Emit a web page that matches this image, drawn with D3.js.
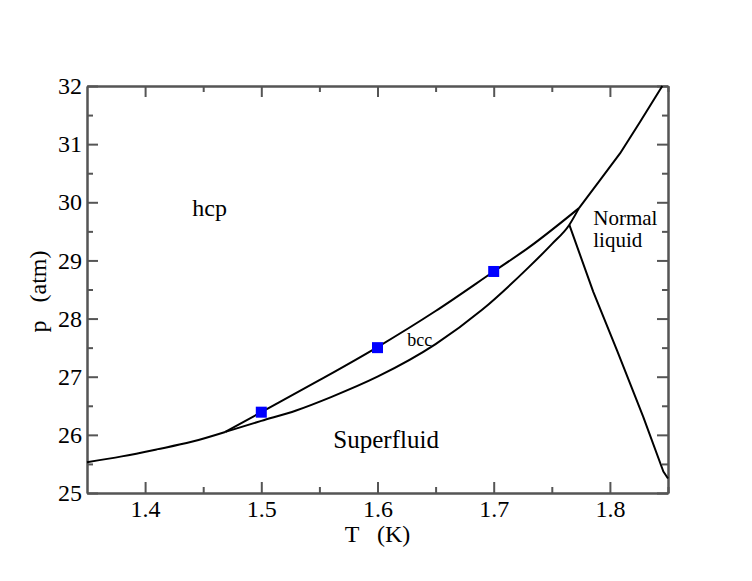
<!DOCTYPE html>
<html>
  <head>
    <meta charset="UTF-8" />
    <script src="https://cdn.jsdelivr.net/npm/d3@7"></script>
    <title>Helium phase diagram</title>
    <style type="text/css">
      body { margin: 0; background: #fff; }
      text { font-family: "Liberation Serif", "DejaVu Serif", serif; fill: #000; }
    </style>
  </head>
  <body>
    <div id="chartcontainer"></div>
    <script>
      // melting line below the bcc pocket (superfluid / hcp)
      const meltLowT = [1.35, 1.38, 1.41, 1.44, 1.469];
      const meltLowP = [25.53, 25.63, 25.75, 25.88, 26.05];
      // superfluid / bcc boundary
      const sfBccT = [1.469, 1.5, 1.53, 1.56, 1.6, 1.65, 1.69, 1.73, 1.75, 1.765, 1.7734];
      const sfBccP = [26.05, 26.24, 26.42, 26.65, 27.0, 27.56, 28.15, 28.88, 29.28, 29.61, 29.9];
      // bcc / hcp boundary
      const bccHcpT = [1.469, 1.5, 1.55, 1.6, 1.65, 1.7, 1.73, 1.7734];
      const bccHcpP = [26.05, 26.39, 26.94, 27.51, 28.13, 28.81, 29.22, 29.9];
      // melting line above the bcc pocket (normal liquid / hcp)
      const meltHighT = [1.7734, 1.7915, 1.8087, 1.8259, 1.8451];
      const meltHighP = [29.9, 30.38, 30.84, 31.38, 32.0];
      // lambda line
      const lambdaT = [1.7651, 1.7857, 1.8062, 1.8287, 1.846, 1.85];
      const lambdaP = [29.61, 28.46, 27.45, 26.31, 25.37, 25.25];
      // measured points
      const pointT = [1.5, 1.6, 1.7];
      const pointP = [26.39, 27.5, 28.81];

      const xTicks = [1.4, 1.5, 1.6, 1.7, 1.8];
      const xMinor = [1.45, 1.55, 1.65, 1.75, 1.85];
      const yTicks = [25, 26, 27, 28, 29, 30, 31, 32];
      const yMinor = [25.5, 26.5, 27.5, 28.5, 29.5, 30.5, 31.5];

      const labels = [
        { text: "hcp", T: 1.4406, p: 29.77, size: 24 },
        { text: "bcc", T: 1.6257, p: 27.53, size: 18 },
        { text: "Superfluid", T: 1.562, p: 25.77, size: 25 },
        { text: "Normal", T: 1.7857, p: 29.61, size: 21 },
        { text: "liquid", T: 1.7857, p: 29.23, size: 21 },
      ];

      var margin = { top: 86, right: 84, bottom: 88, left: 87 },
        width = 752 - margin.left - margin.right,
        height = 581 - margin.top - margin.bottom;

      var svg = d3
        .select("#chartcontainer")
        .append("svg")
        .attr("width", 752)
        .attr("height", 581);

      var g = svg
        .append("g")
        .attr("transform", "translate(" + margin.left + "," + margin.top + ")");

      var x = d3.scaleLinear().domain([1.35, 1.85]).range([0, width]);
      var y = d3.scaleLinear().domain([25, 32]).range([height, 0]);

      const axisColor = "#555";

      function styleAxis(sel) {
        sel.selectAll("path.domain").attr("stroke", axisColor).attr("stroke-width", 2);
        sel.selectAll(".tick line").attr("stroke", axisColor).attr("stroke-width", 2);
        sel.selectAll(".tick text")
          .style("font-family", '"Liberation Serif", serif')
          .style("font-size", "24px")
          .attr("fill", "#000");
      }

      // bottom + left with labels
      g.append("g")
        .attr("transform", "translate(0," + height + ")")
        .call(d3.axisBottom(x).tickValues(xTicks).tickSize(-11).tickSizeOuter(0).tickPadding(7).tickFormat(d3.format(".1f")))
        .call(styleAxis);
      g.append("g")
        .call(d3.axisLeft(y).tickValues(yTicks).tickSize(-11).tickSizeOuter(0).tickPadding(5).tickFormat(d3.format("d")))
        .call(styleAxis);
      // top + right mirrored
      g.append("g")
        .call(d3.axisTop(x).tickValues(xTicks).tickSize(-11).tickSizeOuter(0).tickFormat(""))
        .call(styleAxis);
      g.append("g")
        .attr("transform", "translate(" + width + ",0)")
        .call(d3.axisRight(y).tickValues(yTicks).tickSize(-11).tickSizeOuter(0).tickFormat(""))
        .call(styleAxis);

      // minor ticks
      g.append("g")
        .attr("transform", "translate(0," + height + ")")
        .call(d3.axisBottom(x).tickValues(xMinor).tickSize(-6).tickSizeOuter(0).tickFormat(""))
        .call(styleAxis);
      g.append("g")
        .call(d3.axisTop(x).tickValues(xMinor).tickSize(-6).tickSizeOuter(0).tickFormat(""))
        .call(styleAxis);
      g.append("g")
        .call(d3.axisLeft(y).tickValues(yMinor).tickSize(-6).tickSizeOuter(0).tickFormat(""))
        .call(styleAxis);
      g.append("g")
        .attr("transform", "translate(" + width + ",0)")
        .call(d3.axisRight(y).tickValues(yMinor).tickSize(-6).tickSizeOuter(0).tickFormat(""))
        .call(styleAxis);

      // curves
      var smooth = d3
        .line()
        .x(function (d) { return x(d[0]); })
        .y(function (d) { return y(d[1]); })
        .curve(d3.curveMonotoneX);
      var straight = d3
        .line()
        .x(function (d) { return x(d[0]); })
        .y(function (d) { return y(d[1]); });

      function zip(ts, ps) {
        return ts.map(function (t, i) { return [t, ps[i]]; });
      }

      [
        [zip(meltLowT, meltLowP), smooth],
        [zip(sfBccT, sfBccP), smooth],
        [zip(bccHcpT, bccHcpP), smooth],
        [zip(meltHighT, meltHighP), straight],
        [zip(lambdaT, lambdaP), straight],
      ].forEach(function (c) {
        g.append("path")
          .datum(c[0])
          .attr("fill", "none")
          .attr("stroke", "#000")
          .attr("stroke-width", 2)
          .attr("stroke-linejoin", "round")
          .attr("d", c[1]);
      });

      // measured points
      g.selectAll("rect.pt")
        .data(zip(pointT, pointP))
        .enter()
        .append("rect")
        .attr("class", "pt")
        .attr("x", function (d) { return x(d[0]) - 5.5; })
        .attr("y", function (d) { return y(d[1]) - 5.5; })
        .attr("width", 11)
        .attr("height", 11)
        .attr("fill", "#0000ff");

      // region labels
      g.selectAll("text.region")
        .data(labels)
        .enter()
        .append("text")
        .attr("class", "region")
        .attr("x", function (d) { return x(d.T); })
        .attr("y", function (d) { return y(d.p); })
        .style("font-size", function (d) { return d.size + "px"; })
        .text(function (d) { return d.text; });

      // axis titles
      svg.append("text")
        .attr("x", margin.left + width / 2)
        .attr("y", 542)
        .attr("text-anchor", "middle")
        .attr("xml:space", "preserve")
        .style("font-size", "24px")
        .style("white-space", "pre")
        .text("T   (K)");

      svg.append("text")
        .attr("transform", "translate(46," + (margin.top + height / 2 + 2) + ") rotate(-90)")
        .attr("text-anchor", "middle")
        .attr("xml:space", "preserve")
        .style("font-size", "24px")
        .style("white-space", "pre")
        .text("p   (atm)");
    </script>
  </body>
</html>
